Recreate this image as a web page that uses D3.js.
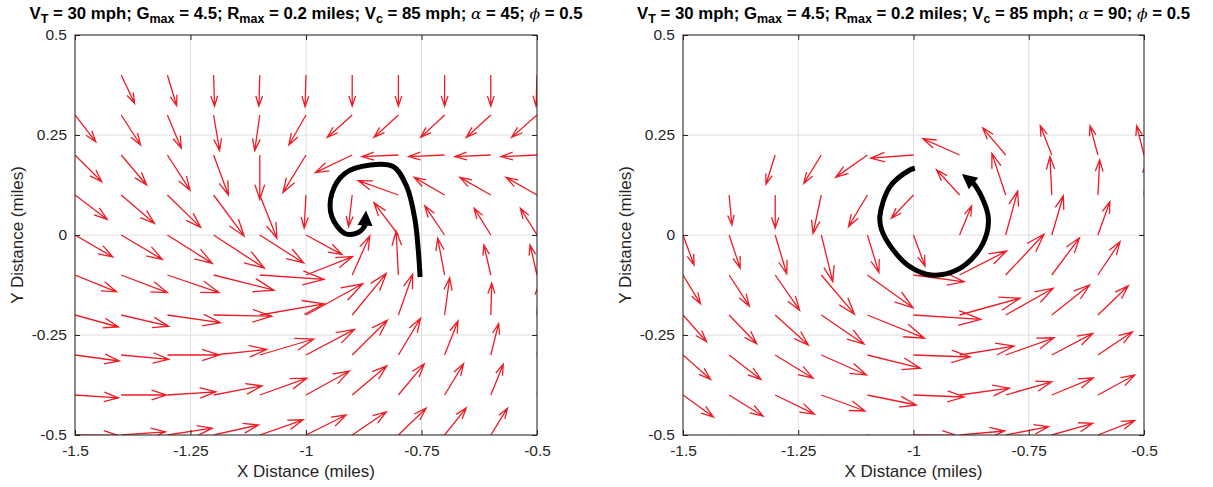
<!DOCTYPE html>
<html><head><meta charset="utf-8">
<script src="https://cdn.jsdelivr.net/npm/d3@7"></script>
<style>
html,body{margin:0;padding:0;background:#fff;}
svg{display:block;font-family:"Liberation Sans",Arial,sans-serif;}
</style></head>
<body><div id="chart"></div>
<script>
// ---------------- DATA ----------------
const xGrid = [-1.5,-1.4,-1.3,-1.2,-1.1,-1.0,-0.9,-0.8,-0.7,-0.6,-0.5];
const yGrid = [0.4,0.3,0.2,0.1,0.0,-0.1,-0.2,-0.3,-0.4,-0.5];

// Left panel (alpha = 45): arrow components (miles), rows follow yGrid, columns follow xGrid
const uLeft = [
  [null,0.029,0.020,0.002,-0.002,-0.002,0,0,0,0,-0.002],
  [0.045,0.042,0.030,0.013,-0.011,-0.037,-0.054,-0.053,-0.052,-0.053,-0.055],
  [0.058,0.055,0.049,0.032,0,-0.050,-0.080,-0.079,-0.078,-0.078,-0.078],
  [0.070,0.072,0.072,0.066,0.037,-0.004,-0.008,-0.087,-0.066,-0.067,-0.067],
  [0.082,0.089,0.097,0.110,0.095,0.078,0.004,-0.053,-0.043,-0.036,-0.036],
  [0.090,0.100,0.112,0.131,0.139,0.101,0.038,-0.005,-0.015,-0.015,-0.015],
  [0.094,0.103,0.115,0.126,0.139,0.123,0.074,0.031,0.011,0.002,0.004],
  [0.096,0.103,0.112,0.115,0.117,0.105,0.076,0.048,0.029,0.017,0.011],
  [0.094,0.098,0.105,0.105,0.102,0.094,0.075,0.056,0.041,0.027,0.017],
  [0.093,0.096,0.097,0.097,0.094,0.087,0.074,0.060,0.047,0.036,0.026]
];
const vLeft = [
  [null,-0.071,-0.077,-0.078,-0.078,-0.079,-0.078,-0.078,-0.078,-0.078,-0.078],
  [-0.067,-0.075,-0.083,-0.089,-0.089,-0.075,-0.056,-0.056,-0.056,-0.056,-0.056],
  [-0.067,-0.075,-0.088,-0.100,-0.111,-0.094,-0.044,-0.004,-0.004,-0.004,-0.004],
  [-0.061,-0.071,-0.081,-0.103,-0.108,-0.083,-0.079,0.036,0.044,0.044,0.044],
  [-0.055,-0.061,-0.071,-0.083,-0.070,-0.049,0.006,0.081,0.073,0.067,0.067],
  [-0.042,-0.044,-0.044,-0.038,-0.011,0.046,0.098,0.110,0.092,0.075,0.075],
  [-0.030,-0.028,-0.019,-0.003,0.028,0.078,0.104,0.102,0.093,0.080,0.075],
  [-0.015,-0.011,0,0.014,0.040,0.064,0.087,0.092,0.085,0.079,0.075],
  [-0.007,0,0.008,0.023,0.042,0.060,0.073,0.078,0.078,0.077,0.073],
  [-0.001,0.008,0.017,0.025,0.038,0.050,0.058,0.067,0.068,0.067,0.065]
];

// Right panel (alpha = 90)
const uRight = [
  [null,null,null,null,null,null,null,null,null,null,null],
  [null,null,null,null,null,null,null,null,null,null,null],
  [null,null,-0.020,-0.038,-0.069,-0.093,-0.080,-0.050,-0.025,-0.017,-0.016],
  [null,0.006,0,-0.018,-0.041,-0.048,-0.050,-0.030,-0.004,0.004,0.007],
  [0.024,0.024,0.025,0.025,0.025,0.025,0.026,0.026,0.025,0.026,0.026],
  [0.038,0.044,0.053,0.072,0.099,0.110,0.102,0.083,0.060,0.048,0.043],
  [0.051,0.060,0.072,0.093,0.124,0.146,0.131,0.103,0.082,0.066,0.059],
  [0.060,0.069,0.082,0.098,0.115,0.123,0.118,0.105,0.089,0.075,0.067],
  [0.066,0.074,0.085,0.095,0.106,0.110,0.108,0.100,0.090,0.080,0.072],
  [0.067,0.074,0.082,0.091,0.098,0.093,0.098,0.093,0.089,0.080,0.074]
];
const vRight = [
  [null,null,null,null,null,null,null,null,null,null,null],
  [null,null,null,null,null,null,null,null,null,null,null],
  [null,null,-0.073,-0.071,-0.056,-0.008,0.041,0.068,0.073,0.073,0.073],
  [null,-0.075,-0.083,-0.096,-0.079,-0.058,0.063,0.104,0.096,0.088,0.083],
  [-0.075,-0.083,-0.097,-0.117,-0.094,-0.078,0.073,0.110,0.098,0.083,0.078],
  [-0.072,-0.078,-0.088,-0.098,-0.082,-0.017,0.060,0.102,0.093,0.083,0.075],
  [-0.067,-0.072,-0.075,-0.073,-0.058,-0.011,0.042,0.067,0.075,0.073,0.070],
  [-0.061,-0.061,-0.058,-0.050,-0.033,-0.005,0.022,0.043,0.054,0.058,0.060],
  [-0.055,-0.053,-0.048,-0.040,-0.025,-0.005,0.017,0.033,0.043,0.050,0.053],
  [-0.050,-0.045,-0.040,-0.030,-0.020,-0.001,0.010,0.021,0.029,0.036,0.040]
];

// Trajectories (black paths)
const pathLeftX = [-0.753,-0.757,-0.764,-0.782,-0.811,-0.861,-0.916,-0.944,-0.944,-0.916,-0.887,-0.872,-0.870];
const pathLeftY = [-0.105,-0.0375,0.0375,0.121,0.171,0.175,0.154,0.104,0.046,0.004,0.006,0.025,0.061];
const pathRightX = [-0.997,-1.008,-1.051,-1.073,-1.069,-1.044,-1.008,-0.961,-0.906,-0.863,-0.841,-0.838,-0.849,-0.870,-0.895];
const pathRightY = [0.167,0.1625,0.121,0.046,0.0125,-0.0375,-0.079,-0.100,-0.0875,-0.046,0.004,0.046,0.0875,0.129,0.1525];

const xTicks = [-1.5,-1.25,-1,-0.75,-0.5];
const xTickLabels = ["-1.5","-1.25","-1","-0.75","-0.5"];
const yTicks = [-0.5,-0.25,0,0.25,0.5];
const yTickLabels = ["-0.5","-0.25","0","0.25","0.5"];
const alphaValues = ["45","90"];

// ---------------- DRAW ----------------
const W = 1213, H = 487;
const svg = d3.select("#chart").append("svg").attr("width",W).attr("height",H);

const panels = [
  {x0:75, x1:537, u:uLeft, v:vLeft, px:pathLeftX, py:pathLeftY, alpha:alphaValues[0]},
  {x0:683, x1:1144, u:uRight, v:vRight, px:pathRightX, py:pathRightY, alpha:alphaValues[1]}
];
const yTop = 35, yBot = 435;
const axisColor = "#262626";
const red = "#ee1c25";

panels.forEach((p,pi) => {
  const xs = d3.scaleLinear().domain([-1.5,-0.5]).range([p.x0,p.x1]);
  const ys = d3.scaleLinear().domain([-0.5,0.5]).range([yBot,yTop]);
  const g = svg.append("g");
  const clipId = "clip"+pi;
  svg.append("clipPath").attr("id",clipId).append("rect")
    .attr("x",p.x0).attr("y",yTop).attr("width",p.x1-p.x0).attr("height",yBot-yTop);

  // grid
  const grid = g.append("g");
  grid.selectAll("line.gx").data(xTicks).join("line")
    .attr("x1",d=>xs(d)).attr("x2",d=>xs(d)).attr("y1",yTop).attr("y2",yBot)
    .attr("stroke","#dedede").attr("stroke-width",1);
  grid.selectAll("line.gy").data(yTicks).join("line")
    .attr("y1",d=>ys(d)).attr("y2",d=>ys(d)).attr("x1",p.x0).attr("x2",p.x1)
    .attr("stroke","#dedede").attr("stroke-width",1);

  // quiver
  const arrows = [];
  yGrid.forEach((yy,ri) => xGrid.forEach((xx,ci) => {
    const u = p.u[ri][ci], v = p.v[ri][ci];
    if (u === null || v === null) return;
    arrows.push({x:xx,y:yy,u:u,v:v});
  }));
  const q = g.append("g").attr("clip-path","url(#"+clipId+")");
  const aH = 0.33, bH = 0.33;
  q.selectAll("path.arrow").data(arrows).join("path")
    .attr("d", a => {
      const x0 = xs(a.x), y0 = ys(a.y);
      const x1 = xs(a.x+a.u), y1 = ys(a.y+a.v);
      const dx = x1-x0, dy = y1-y0;
      const b1x = x1 - aH*(dx + bH*dy), b1y = y1 - aH*(dy - bH*dx);
      const b2x = x1 - aH*(dx - bH*dy), b2y = y1 - aH*(dy + bH*dx);
      return `M${x0},${y0}L${x1},${y1}M${b1x},${b1y}L${x1},${y1}L${b2x},${b2y}`;
    })
    .attr("fill","none").attr("stroke",red).attr("stroke-width",1.3)
    .attr("stroke-linejoin","miter");

  // trajectory
  const pts = p.px.map((d,i)=>[xs(d), ys(p.py[i])]);
  const n = pts.length;
  const tip = pts[n-1], prev = pts[n-2];
  let ddx = tip[0]-prev[0], ddy = tip[1]-prev[1];
  const L = Math.hypot(ddx,ddy); ddx/=L; ddy/=L;
  const hl = 15, hw = 7.5;
  const base = [tip[0]-ddx*hl, tip[1]-ddy*hl];
  const linePts = pts.slice(0,n-1).concat([[tip[0]-ddx*hl*0.8, tip[1]-ddy*hl*0.8]]);
  const line = d3.line().curve(d3.curveCatmullRom.alpha(0.5));
  g.append("path").attr("d", line(linePts))
    .attr("fill","none").attr("stroke","#000").attr("stroke-width",5).attr("stroke-linecap","butt");
  g.append("path").attr("d",
    `M${tip[0]},${tip[1]}L${base[0]-ddy*hw},${base[1]+ddx*hw}L${base[0]+ddy*hw},${base[1]-ddx*hw}Z`)
    .attr("fill","#000");

  // axes box
  g.append("rect").attr("x",p.x0).attr("y",yTop).attr("width",p.x1-p.x0).attr("height",yBot-yTop)
    .attr("fill","none").attr("stroke",axisColor).attr("stroke-width",1);

  const fmtX = d => xTickLabels[xTicks.indexOf(d)];
  const fmtY = d => yTickLabels[yTicks.indexOf(d)];
  const ax = g.append("g").attr("transform",`translate(0,${yBot})`)
    .call(d3.axisBottom(xs).tickValues(xTicks).tickFormat(fmtX).tickSizeInner(-5).tickSizeOuter(0).tickPadding(10));
  const axT = g.append("g").attr("transform",`translate(0,${yTop})`)
    .call(d3.axisTop(xs).tickValues(xTicks).tickFormat("").tickSizeInner(-5).tickSizeOuter(0));
  const ay = g.append("g").attr("transform",`translate(${p.x0},0)`)
    .call(d3.axisLeft(ys).tickValues(yTicks).tickFormat(fmtY).tickSizeInner(-5).tickSizeOuter(0).tickPadding(8));
  const ayR = g.append("g").attr("transform",`translate(${p.x1},0)`)
    .call(d3.axisRight(ys).tickValues(yTicks).tickFormat("").tickSizeInner(-5).tickSizeOuter(0));
  [ax,axT,ay,ayR].forEach(a => {
    a.select(".domain").remove();
    a.selectAll(".tick line").attr("stroke",axisColor);
    a.selectAll(".tick text").attr("fill",axisColor).style("font-size","15.5px")
      .style("font-family","'Liberation Sans',Arial,sans-serif");
  });

  // axis labels
  g.append("text").attr("x",(p.x0+p.x1)/2).attr("y",477).attr("text-anchor","middle")
    .attr("fill",axisColor).style("font-size","17px").text("X Distance (miles)");
  g.append("text").attr("transform",`translate(${p.x0-52},${(yTop+yBot)/2}) rotate(-90)`)
    .attr("text-anchor","middle").attr("fill",axisColor).style("font-size","17px")
    .text("Y Distance (miles)");

  // title
  const t = g.append("text").attr("x",(p.x0+p.x1)/2).attr("y",19).attr("text-anchor","middle")
    .attr("fill","#000").style("font-size","16.8px").style("font-weight","bold");
  const segs = [
    ["V",0],["T",1],[" = 30 mph; G",0],["max",1],[" = 4.5; R",0],["max",1],
    [" = 0.2 miles; V",0],["c",1],[" = 85 mph; ",0],["α",2],[" = "+p.alpha+"; ",0],["ϕ",2],[" = 0.5",0]
  ];
  let shift = 0;
  segs.forEach(([s,k]) => {
    const ts = t.append("tspan").text(s);
    const target = k===1 ? 4 : 0;
    if (target !== shift) { ts.attr("dy", target-shift); shift = target; }
    if (k===1) ts.style("font-size","12.5px");
    if (k===2) ts.style("font-family","'DejaVu Serif',serif").style("font-style","italic").style("font-weight","normal").style("font-size","15.5px");
  });
});
</script>
</body></html>
